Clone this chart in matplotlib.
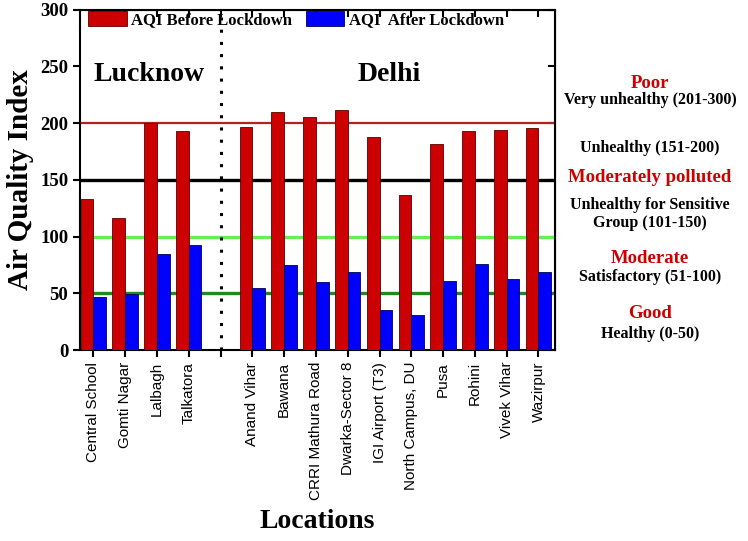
import matplotlib.pyplot as plt
import numpy as np

# station names (empty slot separates Lucknow and Delhi)
locations = ['Central School', 'Gomti Nagar', 'Lalbagh', 'Talkatora', '',
             'Anand Vihar', 'Bawana', 'CRRI Mathura Road', 'Dwarka-Sector 8',
             'IGI Airport (T3)', 'North Campus, DU', 'Pusa', 'Rohini',
             'Vivek Vihar', 'Wazirpur']
aqi_before = [133, 116, 200, 193, np.nan, 197, 210, 205, 212, 188, 137, 182, 193, 194, 196]
aqi_after = [47, 49, 85, 93, np.nan, 55, 75, 60, 69, 35, 31, 61, 76, 63, 69]

band_levels = [200, 150, 100, 50]
band_colors = ['#b22222', 'black', '#66ee55', '#1f8a1f']
band_widths = [1.6, 2.4, 2.4, 2.4]

# category notes on the right: (y value, text, colour, size)
notes = [
    (235, 'Poor', '#cc0000', 13.5),
    (220, 'Very unhealthy (201-300)', 'black', 11.5),
    (178, 'Unhealthy (151-200)', 'black', 11.5),
    (152, 'Moderately polluted', '#cc0000', 13.5),
    (120, 'Unhealthy for Sensitive\nGroup (101-150)', 'black', 11.5),
    (81, 'Moderate', '#cc0000', 13.5),
    (64, 'Satisfactory (51-100)', 'black', 11.5),
    (32, 'Good', '#cc0000', 13.5),
    (14, 'Healthy (0-50)', 'black', 11.5),
]

serif = 'Liberation Serif'
sans = 'Liberation Sans'

fig = plt.figure(figsize=(7.48, 5.41), dpi=100)
ax = fig.add_axes([0.107, 0.353, 0.635, 0.629])

x = np.arange(len(locations))
w = 0.4
ax.bar(x - w / 2, aqi_before, w, color='#cc0000', edgecolor='#5a0000', linewidth=0.6,
       label='AQI Before Lockdown', zorder=3)
ax.bar(x + w / 2, aqi_after, w, color='#0000ff', edgecolor='#00005a', linewidth=0.6,
       label='AQI  After Lockdown', zorder=3)

for lev, c, lw in zip(band_levels, band_colors, band_widths):
    ax.axhline(lev, color=c, lw=lw, zorder=2)
ax.axvline(4, color='black', ls=(0, (1, 3)), lw=2.2, zorder=2)

ax.set_xlim(-0.42, 14.52)
ax.set_ylim(0, 300)
ax.set_xticks(x)
ax.set_xticklabels(locations, rotation=90, fontsize=11, family=sans)
ax.set_yticks(range(0, 301, 50))
for t in ax.get_yticklabels():
    t.set_fontsize(13.5)
    t.set_family(serif)
    t.set_fontweight('bold')
ax.tick_params(direction='out', width=1.5, length=5)
for s in ax.spines.values():
    s.set_linewidth(1.5)

top = ax.secondary_xaxis('top')
top.set_xticks(x)
top.tick_params(direction='in', labeltop=False, width=1.5, length=5)
right = ax.secondary_yaxis('right')
right.set_yticks(range(0, 301, 50))
right.tick_params(direction='in', labelright=False, width=1.5, length=5)

ax.set_ylabel('Air Quality Index', family=serif, fontweight='bold', fontsize=21)
ax.yaxis.set_label_coords(-0.097, 0.5)
ax.set_xlabel('Locations', family=serif, fontweight='bold', fontsize=20, labelpad=6)

ax.text(0.0, 243, 'Lucknow', family=serif, fontweight='bold', fontsize=20, va='center')
ax.text(8.3, 243, 'Delhi', family=serif, fontweight='bold', fontsize=20, va='center')

ax.legend(loc='upper left', ncol=2, frameon=False, prop={'family': serif, 'weight': 'bold', 'size': 12},
          bbox_to_anchor=(0.0, 1.02), handlelength=2.3, handleheight=1.0, columnspacing=0.85,
          handletextpad=0.25, borderaxespad=0.2, borderpad=0.3)

trans = ax.get_yaxis_transform()
for yv, txt, c, fs in notes:
    ax.text(1.2, yv, txt, transform=trans, ha='center', va='center', color=c,
            family=serif, fontweight='bold', fontsize=fs, clip_on=False)

fig.savefig('out.png', dpi=100)
